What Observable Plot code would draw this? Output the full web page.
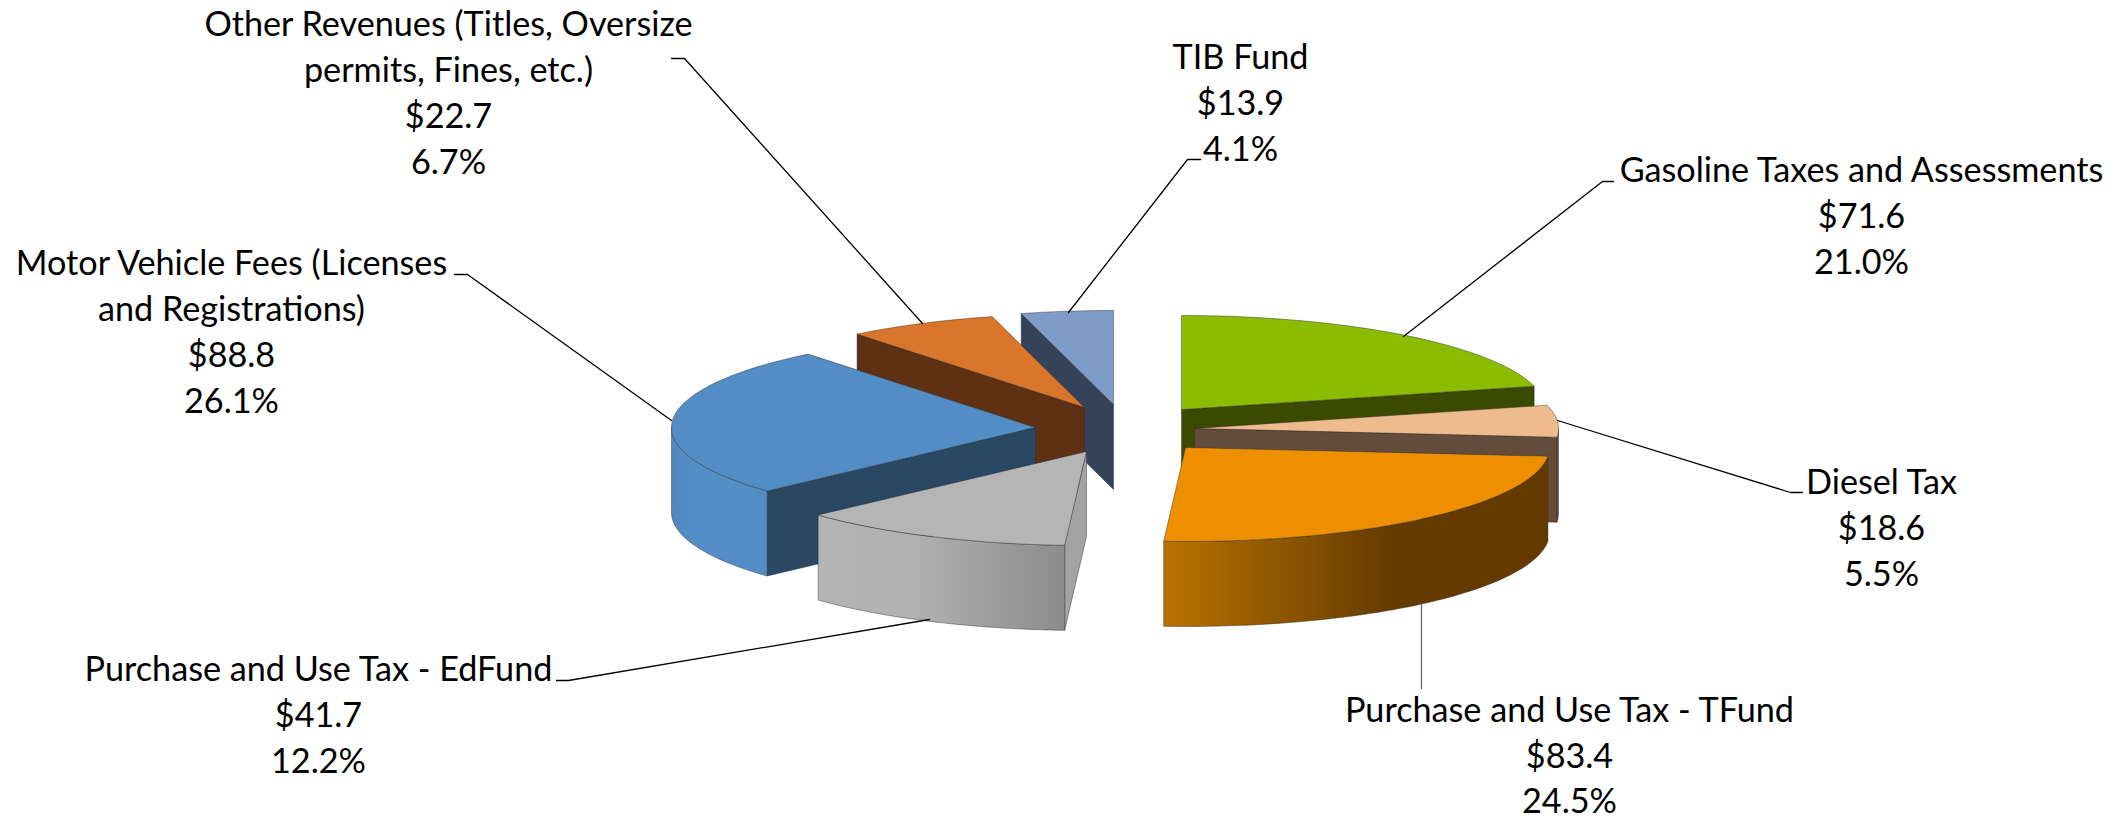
<!DOCTYPE html>
<html><head><meta charset="utf-8">
<script src="https://cdn.jsdelivr.net/npm/d3@7"></script>
<script src="https://cdn.jsdelivr.net/npm/@observablehq/plot@0.6"></script>
<style>html,body{margin:0;padding:0;background:#fff}svg{display:block}</style>
</head><body><div id="chart"></div>
<script>
// Data, clockwise from 12 o'clock ($ millions)
const names = ["Gasoline Taxes and Assessments","Diesel Tax","Purchase and Use Tax - TFund","Purchase and Use Tax - EdFund","Motor Vehicle Fees (Licenses\nand Registrations)","Other Revenues (Titles, Oversize\npermits, Fines, etc.)","TIB Fund"];
const values = [71.6,18.6,83.4,41.7,88.8,22.7,13.9];
// Exploded apex of each slice in chart space
const apexX = [1181,1194,1185,1086,1035,1084,1113];
const apexY = [409,428,447,451,427,407,404];
const topColor = ["#8bbc00","#edbb8d","#ee8f00","#b5b5b5","#528dc5","#da752c","#7f9cc9"];
const cutColor = ["#3c4a00","#644c3c","#643a00","#a3a3a3","#2a4764","#5f3013","#35435a"];
const rimColor = ["#3c4a00","#644c3c","url(#rimT)","url(#rimE)","url(#rimB)","#5f3013","#35435a"];
const drawOrder = [6,5,0,1,4,3,2];
// Label anchors (centre x, centre of first line y) and leader paths
const labelX = [1861,1881,1569,318,231,448,1240];
const labelY = [170,482,709.5,669,263,24,57];
const leaders = [
  [[1613,181],[1602,181],[1403,336]],
  [[1557,420],[1790,492],[1802,492]],
  [[1421,603],[1421,688]],
  [[556,680],[568,680],[929,619]],
  [[454,274],[467,274],[671,420]],
  [[671,58],[684,58],[922,323]],
  [[1200,159],[1187,159],[1068,312]]
];
const leaderColor = ["#000","#000","#666","#000","#000","#000","#000"];

const RX = 364, RY = 94, DEPTH = 85, DEG = Math.PI / 180;
const total = d3.sum(values);
const fmtLabel = i => `${names[i]}\n$${values[i].toFixed(1)}\n${(values[i] / total * 100).toFixed(1)}%`;

// Angles measured clockwise on screen, 0 = 3 o'clock
const cum = d3.cumsum(values);
const faces = [];
let fid = 0;
function face(pts, fill) {
  const id = fid++;
  const closed = [...pts, pts[0]];
  closed.forEach(p => faces.push({x: p[0], y: p[1], id, fill}));
}
for (const i of drawOrder) {
  const cx = apexX[i], cy = apexY[i];
  const t0 = -90 + (cum[i] - values[i]) / total * 360;
  const t1 = -90 + cum[i] / total * 360;
  const P = t => [cx + RX * Math.cos(t * DEG), cy + RY * Math.sin(t * DEG)];
  const down = p => [p[0], p[1] + DEPTH];
  const arc = (a, b) => d3.range(0, 61).map(k => P(a + (b - a) * k / 60));
  const apex = [cx, cy];
  // radial cut faces that turn towards the viewer
  if (Math.sin((t0 - 90) * DEG) > 0) face([apex, P(t0), down(P(t0)), down(apex)], cutColor[i]);
  if (Math.sin((t1 + 90) * DEG) > 0) face([apex, P(t1), down(P(t1)), down(apex)], cutColor[i]);
  // outer rim: the part of the arc in the front half
  for (const turn of [0, 360, -360]) {
    const a = Math.max(t0, turn), b = Math.min(t1, turn + 180);
    if (b > a) {
      const top = arc(a, b);
      face([...top, ...top.slice().reverse().map(down)], rimColor[i]);
    }
  }
  // top
  face([apex, ...arc(t0, t1)], topColor[i]);
}
const leaderPts = leaders.flatMap((l, i) => l.map(p => ({x: p[0], y: p[1], i, c: leaderColor[i]})));
const labels = names.map((_, i) => ({i, x: labelX[i], y: labelY[i], t: fmtLabel(i)}));

const FS = 34.2, LH = 45.7;
const chart = Plot.plot({
  width: 2123, height: 820, margin: 0,
  x: {domain: [0, 2123], range: [0, 2123], axis: null},
  y: {domain: [0, 820], range: [0, 820], axis: null},
  marks: [
    Plot.line(faces, {x: "x", y: "y", z: "id", fill: "fill", stroke: "#2a2a2a", strokeOpacity: 0.55, strokeWidth: 0.8, strokeLinejoin: "round"}),
    Plot.line(leaderPts, {x: "x", y: "y", z: "i", stroke: "c", strokeWidth: 1.3}),
    Plot.text(labels, {x: "x", y: "y", text: "t", lineAnchor: "top", dy: -FS * 0.6, lineHeight: LH / FS, fontSize: FS, fontFamily: "Lato", fill: "#000", textAnchor: "middle"})
  ]
});
// gradients for the curved rims
const defs = d3.create("svg:defs");
const grad = (id, stops) => {
  const g = defs.append("linearGradient").attr("id", id).attr("x1", 0).attr("x2", 1).attr("y1", 0).attr("y2", 0);
  stops.forEach(([o, c]) => g.append("stop").attr("offset", o).attr("stop-color", c));
};
grad("rimT", [[0, "#b97200"], [0.6, "#643a00"], [1, "#643a00"]]);
grad("rimE", [[0, "#b5b5b5"], [0.4, "#b0b0b0"], [1, "#8c8c8c"]]);
grad("rimB", [[0, "#4f89bf"], [0.3, "#548fc8"], [1, "#528dc5"]]);
chart.insertBefore(defs.node(), chart.firstChild);
document.getElementById("chart").appendChild(chart);
</script></body></html>
